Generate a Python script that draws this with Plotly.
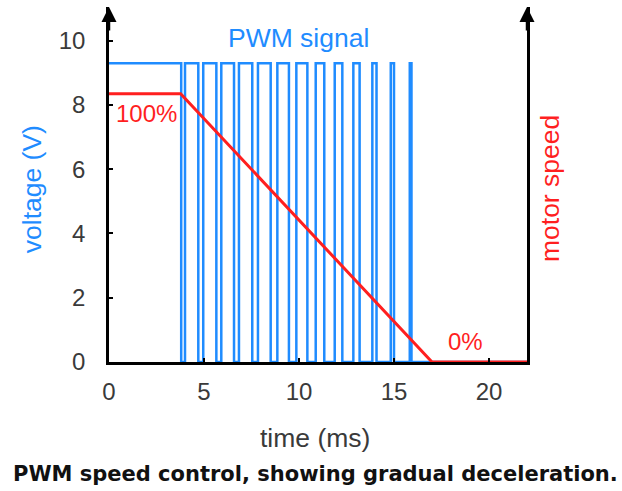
import plotly.graph_objects as go

# ---- data ----
pwm_high_v = 9.3                 # PWM "on" level (V)
pwm_low_v = 0.0
first_drop_ms = 3.8              # end of the initial full-on period
pwm_rise_ms = [4.00, 4.96, 5.91, 6.84, 7.84, 8.86, 9.86, 10.88, 11.88, 12.86, 13.86, 14.83, 15.83]
pwm_fall_ms = [4.70, 5.65, 6.58, 7.54, 8.51, 9.47, 10.44, 11.33, 12.28, 13.19, 14.08, 15.00, 15.92]
end_ms = 22.0

speed_t_ms = [0.0, 3.77, 17.0, 22.0]
speed_pct = [100, 100, 0, 0]
speed_full_v = 8.35              # height where 100% sits on the voltage scale

x_ticks = [0, 5, 10, 15, 20]
y_ticks = [0, 2, 4, 6, 8, 10]

# ---- build PWM step trace ----
pwm_t = [0.0, first_drop_ms]
pwm_v = [pwm_high_v, pwm_low_v]
for r, f in zip(pwm_rise_ms, pwm_fall_ms):
    pwm_t += [r, f]
    pwm_v += [pwm_high_v, pwm_low_v]
pwm_t.append(end_ms)
pwm_v.append(pwm_low_v)

BLUE = "#1f8cff"
RED = "#ff1f1f"
GRAY = "#3a3a3a"
FONT = "Liberation Sans, Arial, sans-serif"
Y_TOP = 11.05

fig = go.Figure()
fig.add_trace(go.Scatter(x=pwm_t, y=pwm_v, mode="lines", line=dict(color=BLUE, width=2.5, shape="hv"),
                         hoverinfo="skip", showlegend=False))
fig.add_trace(go.Scatter(x=speed_t_ms, y=speed_pct, mode="lines", line=dict(color=RED, width=3),
                         yaxis="y2", hoverinfo="skip", showlegend=False))

fig.update_layout(
    width=622, height=491,
    margin=dict(l=109, r=95, t=7, b=129),
    paper_bgcolor="white", plot_bgcolor="white",
    font=dict(family=FONT, color=GRAY),
    xaxis=dict(range=[0, end_ms], tickvals=x_ticks, showgrid=False, zeroline=False,
               showline=True, linecolor="black", linewidth=2.5,
               ticks="inside", ticklen=4, tickwidth=2, tickcolor="black",
               tickfont=dict(size=24, color=GRAY), ticklabelstandoff=6),
    yaxis=dict(range=[0, Y_TOP], tickvals=y_ticks, showgrid=False, zeroline=False,
               showline=True, linecolor="black", linewidth=2.5,
               ticks="inside", ticklen=4, tickwidth=2, tickcolor="black",
               tickfont=dict(size=24, color=GRAY), ticklabelstandoff=16),
    yaxis2=dict(range=[0, 100 * Y_TOP / speed_full_v], overlaying="y", side="right", anchor="x",
                showgrid=False, zeroline=False, showline=True, linecolor="black", linewidth=2.5,
                ticks="", showticklabels=False),
)

ann = []
# axis arrowheads
for xv in [0, end_ms]:
    ann.append(dict(x=xv, y=Y_TOP, xref="x", yref="y", ax=0, ay=25, axref="pixel", ayref="pixel",
                    text="", showarrow=True, arrowhead=2, arrowsize=1.2, arrowwidth=2.5,
                    arrowcolor="black"))
C = dict(xanchor="center", yanchor="middle", showarrow=False)
ann += [
    dict(x=9.95, y=10.08, xref="x", yref="y", text="PWM signal",
         font=dict(size=26.5, color=BLUE), **C),
    dict(x=1.98, y=7.72, xref="x", yref="y", text="100%",
         font=dict(size=24, color=RED), **C),
    dict(x=18.78, y=0.63, xref="x", yref="y", text="0%",
         font=dict(size=24, color=RED), **C),
    dict(x=0.493, y=-0.214, xref="paper", yref="paper", text="time (ms)",
         font=dict(size=26.5, color=GRAY), **C),
    dict(x=-0.184, y=0.487, xref="paper", yref="paper", text="voltage (V)",
         textangle=-90, font=dict(size=26.5, color=BLUE), **C),
    dict(x=1.055, y=0.49, xref="paper", yref="paper", text="motor speed",
         textangle=-90, font=dict(size=26.5, color=RED), **C),
    dict(x=0.495, y=-0.316, xref="paper", yref="paper",
         text="<b>PWM speed control, showing gradual deceleration.</b>",
         font=dict(size=21, color="#111111", family="DejaVu Sans, Verdana, sans-serif"), **C),
]
fig.update_layout(annotations=ann)

fig.write_html("out.html", config={"displayModeBar": False},
               post_script="document.body.style.margin='0';")
